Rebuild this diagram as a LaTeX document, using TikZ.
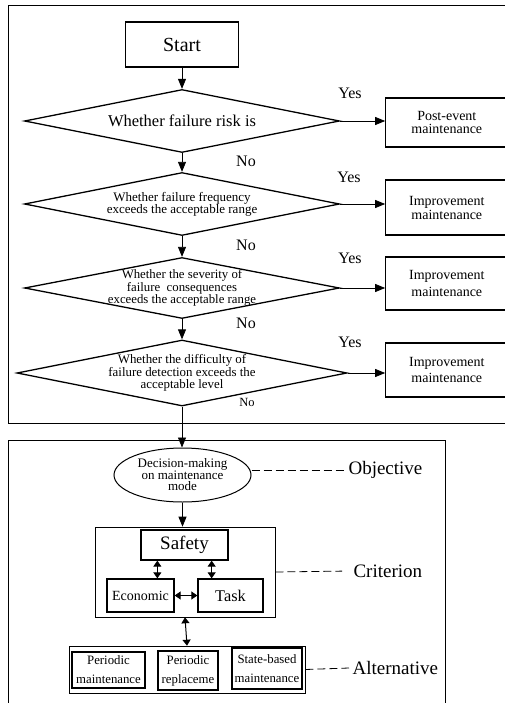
\documentclass[tikz,border=0pt]{standalone}
\usepackage{fontspec}
\setmainfont{Liberation Serif}
\usetikzlibrary{shapes.geometric,arrows.meta,positioning}

\begin{document}
\begin{tikzpicture}[x=1pt, y=-1pt,
  >={Triangle[length=10pt,width=8pt]},
  frame/.style={draw, line width=0.8pt},
  startbox/.style={draw, line width=1.3pt, minimum width=113pt, minimum height=45pt, font=\fontsize{20}{22}\selectfont},
  decision/.style={draw, diamond, line width=1.3pt, aspect=5, inner xsep=0pt, inner ysep=-8pt, align=center, minimum width=315pt, minimum height=63pt},
  outbox/.style={draw, line width=1.3pt, minimum width=122pt, inner sep=0pt, align=center},
  ans/.style={font=\fontsize{16}{18}\selectfont},
  tier/.style={font=\fontsize{19}{22}\selectfont, anchor=west},
  critbox/.style={draw, line width=1.3pt, inner sep=0pt},
  altbox/.style={draw, line width=1.3pt, inner sep=0pt, align=center, font=\fontsize{12.8}{19}\selectfont},
  arr/.style={->, line width=0.8pt},
  biarr/.style={{Triangle[length=6pt,width=8pt]}-{Triangle[length=6pt,width=8pt]}, line width=1pt},
  tierlink/.style={dash pattern=on 8pt off 4pt, line width=0.8pt},
]
\useasboundingbox (0,0) rectangle (505,703);

\def\boxgap{45pt}

% --- Frames ---
\draw[frame] (8,5) rectangle (512,423);
\draw[frame] (8,440) rectangle (445,710);

% --- Screening ---
\node[startbox] (start) at (182,44.5) {Start};

\node[decision, font=\fontsize{16.5}{19}\selectfont] (d1) at (182,121) {Whether failure risk is};
\node[decision, font=\fontsize{13}{12}\selectfont] (d2) at (182,204) {Whether failure frequency\\exceeds the acceptable range};
\node[decision, font=\fontsize{12.8}{10.5}\selectfont, minimum height=61pt] (d3) at (182,288) {Whether the severity of\\failure\ \ consequences\\exceeds the acceptable range};
\node[decision, font=\fontsize{12.9}{11.5}\selectfont, minimum width=330pt, minimum height=66pt] (d4) at (182,373) {Whether the difficulty of\\failure detection exceeds the\\acceptable level};

\node[outbox, minimum height=49pt, font=\fontsize{14}{13.5}\selectfont, right=\boxgap of d1, yshift=-1.5pt] (o1) {Post-event\\maintenance};
\node[outbox, minimum height=55pt, font=\fontsize{14}{14}\selectfont, right=\boxgap of d2, yshift=-3.5pt] (o2) {Improvement\\maintenance};
\node[outbox, minimum height=53pt, font=\fontsize{14}{17}\selectfont, right=\boxgap of d3, yshift=4.5pt] (o3) {Improvement\\maintenance};
\node[outbox, minimum height=54pt, font=\fontsize{14}{16}\selectfont, right=37.5pt of d4, yshift=3pt] (o4) {Improvement\\maintenance};

\node[ans] (y1) at (350,93) {Yes};
\node[ans] (y2) at (349,177) {Yes};
\node[ans] (y3) at (350,258) {Yes};
\node[ans] (y4) at (350,342) {Yes};
\node[ans] (n1) at (246,161) {No};
\node[ans] (n2) at (246,245) {No};
\node[ans] (n3) at (246,323) {No};
\node[font=\fontsize{12.5}{14}\selectfont] (n4) at (247,402) {No};

\draw[arr] (start) -- (d1);
\draw[arr] (d1) -- (d2);
\draw[arr] (d2) -- (d3);
\draw[arr] (d3) -- (d4);
\draw[arr] (d1.east) -- (d1.east -| o1.west);
\draw[arr] (d2.east) -- (d2.east -| o2.west);
\draw[arr] (d3.east) -- (d3.east -| o3.west);
\draw[arr] (d4.east) -- (d4.east -| o4.west);

% --- Hierarchy ---
\node[draw, ellipse, line width=1pt, minimum width=137pt, minimum height=54pt, inner sep=0pt, align=center, font=\fontsize{13}{11.5}\selectfont] (mode) at (182.5,475) {Decision-making\\on maintenance\\mode};

\node[draw, line width=0.6pt, minimum width=180pt, minimum height=90pt] (critframe) at (185,572) {};
\node[critbox, minimum width=87pt, minimum height=30pt, font=\fontsize{19}{21}\selectfont] (safety) at (184.5,545) {Safety};
\node[critbox, minimum width=67pt, minimum height=33pt, font=\fontsize{14}{16}\selectfont] (econ) at (140.5,595.5) {Economic};
\node[critbox, minimum width=65pt, minimum height=33pt, font=\fontsize{16.3}{18}\selectfont] (task) at (230.5,595.5) {Task};

\node[draw, line width=0.6pt, minimum width=236pt, minimum height=47pt] (altframe) at (187,669.5) {};
\node[altbox, minimum width=73pt, minimum height=36pt] (p1) at (108.5,670) {Periodic\\maintenance};
\node[altbox, minimum width=60pt, minimum height=39pt] (p2) at (188,670.5) {Periodic\\replaceme};
\node[altbox, minimum width=70pt, minimum height=41pt] (p3) at (267,668.5) {State-based\\maintenance};

\node[tier] (objlbl) at (345,470) {Objective};
\node[tier] (critlbl) at (350,571) {Criterion};
\node[tier] (altlbl) at (349,668) {Alternative};

\draw[arr] (d4.south) -- (d4.south |- mode.north);
\draw[arr] (mode.south) -- (mode.south |- critframe.north);
\draw[biarr] ([xshift=17pt]safety.south west) -- ([xshift=17pt]safety.south west |- econ.north);
\draw[biarr] ([xshift=-17pt]safety.south east) -- ([xshift=-17pt]safety.south east |- task.north);
\draw[biarr] (econ) -- (task);
\draw[biarr] (critframe.south) -- (altframe.north);

\draw[tierlink] (objlbl.west -| mode.east) -- (objlbl.west);
\draw[tierlink, shorten >=8pt] (critframe.east) -- (critlbl.west);
\draw[tierlink] (altframe.east) -- (altlbl.west);

\end{tikzpicture}
\end{document}
